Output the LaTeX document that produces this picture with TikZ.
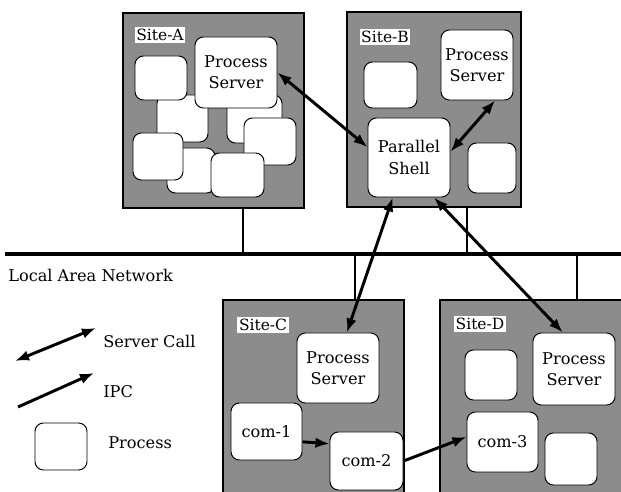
\documentclass[tikz,border=0pt]{standalone}
\usepackage{fontspec}
\setmainfont{DejaVu Serif}
\usetikzlibrary{arrows.meta}

\tikzset{
  wh/.style 2 args={minimum width=#1*.025cm,minimum height=#2*.025cm},
  site/.style={draw,line width=.8pt,fill=black!45,inner sep=0pt},
  sitelabel/.style={fill=white,inner sep=1.2pt,font=\fontsize{11}{13}\selectfont},
  proc/.style={draw,fill=white,rounded corners=6pt,line width=.7pt,inner sep=0pt,
    align=center,font=\fontsize{11.5}{15}\selectfont},
  txt/.style={anchor=west,inner sep=0pt,font=\fontsize{11.5}{14}\selectfont},
  call/.style={{Latex[length=10pt,width=7.5pt]}-{Latex[length=10pt,width=7.5pt]},line width=2.1pt},
  ipc/.style={-{Latex[length=10pt,width=7.5pt]},line width=2.1pt},
  tap/.style={line width=.9pt},
}

\begin{document}
\begin{tikzpicture}[x=.025cm,y=-.025cm]
  \useasboundingbox (0,0) rectangle (621,492);
  \clip (0,0) rectangle (621,492);

  % sites
  \node[site,wh={181}{195}] (siteA) at (213.5,110.5) {};
  \node[site,wh={174}{195}] (siteB) at (434,109.5) {};
  \node[site,wh={181}{220}] (siteC) at (313.5,410) {};
  \node[site,wh={210}{220}] (siteD) at (545,410) {};
  \node[sitelabel] (labA) at (160,35) {Site-A};
  \node[sitelabel] (labB) at (385,37) {Site-B};
  \node[sitelabel] (labC) at (263,325) {Site-C};
  \node[sitelabel] (labD) at (480,324) {Site-D};

  % local area network
  \coordinate (lanL) at (5,254);
  \coordinate (lanR) at (621,254);
  \draw[line width=2.2pt] (lanL) -- (lanR);
  \node[txt] (lan) at (8,275) {Local Area Network};
  \coordinate (tapA) at (243,254);
  \coordinate (tapB) at (467,254);
  \coordinate (tapC) at (355,254);
  \coordinate (tapD) at (577,254);
  \draw[tap] (tapA) -- (tapA |- siteA.south);
  \draw[tap] (tapB) -- (tapB |- siteB.south);
  \draw[tap] (tapC) -- (tapC |- siteC.north);
  \draw[tap] (tapD) -- (tapD |- siteD.north);

  % Site-A
  \node[proc,wh={51}{47}] (a2) at (182.5,118.5) {};
  \node[proc,wh={55}{48}] (a3) at (254.5,119) {};
  \node[proc,wh={48}{45}] (a6) at (191,170.5) {};
  \node[proc,wh={52}{44}] (a1) at (161,78) {};
  \node[proc,wh={82}{71}] (psA) at (236,72.5) {Process\\Server};
  \node[proc,wh={52}{47}] (a4) at (270,141.5) {};
  \node[proc,wh={50}{47}] (a5) at (158,156.5) {};
  \node[proc,wh={53}{44}] (a7) at (237.5,175) {};

  % Site-B
  \node[proc,wh={53}{46}] (b1) at (390.5,85) {};
  \node[proc,wh={72}{70}] (psB) at (477,65) {Process\\Server};
  \node[proc,wh={48}{50}] (b2) at (492,168) {};
  \node[proc,wh={82}{79}] (shell) at (409,157.5) {Parallel\\Shell};

  % Site-C
  \node[proc,wh={82}{70}] (psC) at (338,368) {Process\\Server};
  \node[proc,wh={71}{57}] (com1) at (266.5,431.5) {com-1};
  \node[proc,wh={73}{58}] (com2) at (366.5,461) {com-2};

  % Site-D
  \node[proc,wh={52}{50}] (d1) at (491,375) {};
  \node[proc,wh={82}{72}] (psD) at (574,369) {Process\\Server};
  \node[proc,wh={71}{60}] (com3) at (502.5,442) {com-3};
  \node[proc,wh={52}{52}] (d2) at (571,459) {};

  % server calls
  \draw[call] (psA.east) -- (shell.166);
  \draw[call] (psB.-63) -- (shell.8);
  \draw[call] (shell.-112) -- (psC.76);
  \draw[call] (shell.-58) -- (psD.107);

  % ipc
  \draw[ipc] (com1.-16) -- (com2.155);
  \draw[ipc] (com2.east) -- (com3.172);

  % legend
  \coordinate (scA) at (15,361);
  \coordinate (scB) at (96,328);
  \coordinate (ipA) at (18,407);
  \coordinate (ipB) at (94,373);
  \draw[call] (scA) -- (scB);
  \draw[ipc] (ipA) -- (ipB);
  \node[proc,wh={52}{47}] (legproc) at (61,446.5) {};
  \node[txt] (legsc) at (103,341) {Server Call};
  \node[txt] (legipc) at (103,392) {IPC};
  \node[txt] (legp) at (108,443) {Process};
\end{tikzpicture}
\end{document}
